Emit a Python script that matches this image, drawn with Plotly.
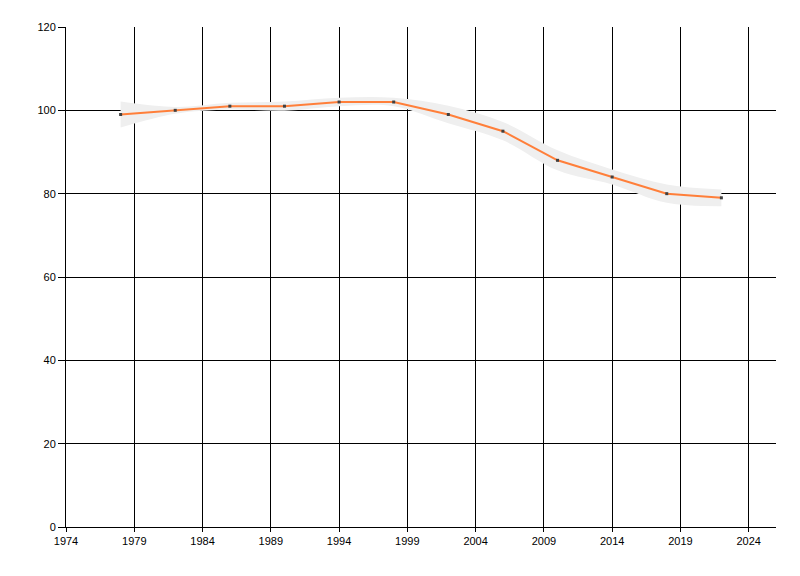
import plotly.graph_objects as go

years = [1978, 1982, 1986, 1990, 1994, 1998, 2002, 2006, 2010, 2014, 2018, 2022]
values = [99, 100, 101, 101, 102, 102, 99, 95, 88, 84, 80, 79]
band_upper = [102.1, 100.8, 101.8, 102.1, 103, 103, 101.1, 97.2, 90.4, 85.8, 82.2, 81]
band_lower = [95.9, 99.2, 100.2, 99.9, 101, 101, 96.9, 92.8, 85.6, 82.2, 77.8, 77]

x_ticks = list(range(1974, 2025, 5))
y_ticks = [0, 20, 40, 60, 80, 100, 120]

fig = go.Figure()

fig.add_trace(go.Scatter(
    x=years, y=band_upper, mode="lines", line=dict(width=0, shape="spline"),
    hoverinfo="skip", showlegend=False))
fig.add_trace(go.Scatter(
    x=years, y=band_lower, mode="lines", line=dict(width=0, shape="spline"),
    fill="tonexty", fillcolor="#EFEFEF", hoverinfo="skip", showlegend=False))
fig.add_trace(go.Scatter(
    x=years, y=values, mode="lines+markers",
    line=dict(color="#FF7F3A", width=2),
    marker=dict(symbol="square", size=3, color="#404040"),
    showlegend=False))

font = dict(family="Liberation Sans, Arial, sans-serif", size=11, color="#000000")

fig.update_layout(
    width=800, height=576,
    margin=dict(l=58, r=32, t=19, b=57),
    paper_bgcolor="white", plot_bgcolor="white",
    font=font,
    showlegend=False,
)
fig.update_xaxes(
    range=[1974, 2026], tickvals=x_ticks, ticktext=[str(t) for t in x_ticks],
    showgrid=True, gridcolor="#000000", gridwidth=1,
    showline=True, linecolor="#000000", linewidth=1,
    ticks="outside", ticklen=4, tickcolor="#000000", zeroline=False,
)
fig.update_yaxes(
    range=[0, 120], tickvals=y_ticks, ticktext=[str(t) for t in y_ticks],
    showgrid=True, gridcolor="#000000", gridwidth=1,
    showline=True, linecolor="#000000", linewidth=1,
    ticks="outside", ticklen=7, tickcolor="#000000", zeroline=False,
)

fig.write_html("out.html")
